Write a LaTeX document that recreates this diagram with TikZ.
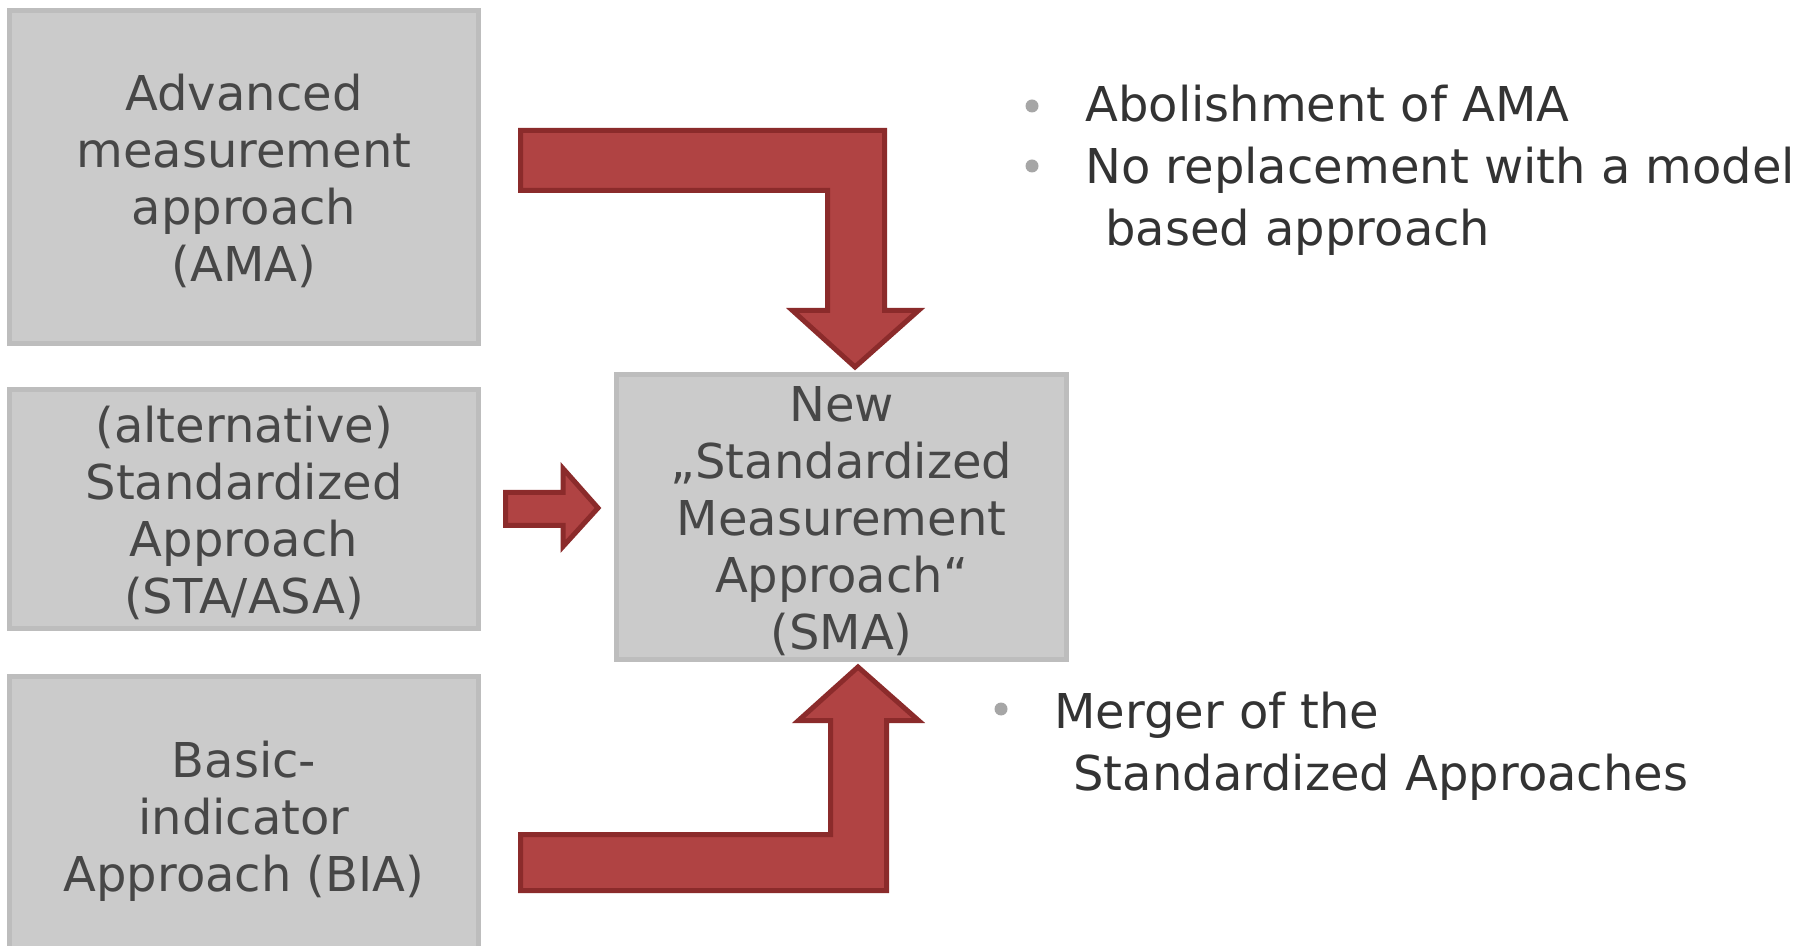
\documentclass[tikz,border=0pt]{standalone}
\usepackage{fontspec}
\setmainfont{DejaVu Sans}
\definecolor{boxfill}{HTML}{CBCBCB}
\definecolor{boxline}{HTML}{BDBDBD}
\definecolor{boxtext}{HTML}{474747}
\definecolor{arrowfill}{HTML}{B04343}
\definecolor{arrowline}{HTML}{8B2B2B}
\definecolor{bulletgray}{HTML}{A6A6A6}
\definecolor{listtext}{HTML}{333333}
\tikzset{
  approachbox/.style={draw=boxline, fill=boxfill, line width=2.5pt, inner sep=0pt},
  boxlabel/.style={text=boxtext, align=center, inner sep=0pt,
    font=\fontsize{24}{28.5}\selectfont},
  blockarrow/.style={draw=arrowline, fill=arrowfill, line width=2.5pt, line join=miter},
  listline/.style={anchor=base west, inner sep=0pt, text=listtext,
    font=\fontsize{24}{31}\selectfont},
  bulletdot/.style={circle, fill=bulletgray, minimum size=6.5pt, inner sep=0pt},
}
\begin{document}
\begin{tikzpicture}[x=0.5pt, y=-0.5pt]
  \useasboundingbox (0,0) rectangle (1806,946);
  \begin{scope}
    \clip (0,0) rectangle (1806,946);
    % approach boxes on the left
    \node[approachbox, minimum width=234.5pt, minimum height=166.5pt] (ama) at (244,177) {};
    \node[approachbox, minimum width=234.5pt, minimum height=119.5pt] (sta) at (244,509) {};
    \node[approachbox, minimum width=234.5pt, minimum height=142.5pt] (bia) at (244,819) {};
    % the new approach in the middle
    \node[approachbox, minimum width=225pt, minimum height=142.5pt] (sma) at (841.5,517) {};
  \end{scope}
  \node[boxlabel] (amatext) at ([yshift=-2pt]ama.center)
    {Advanced\\measurement\\approach\\(AMA)};
  \node[boxlabel] (statext) at ([yshift=-2pt]sta.center)
    {(alternative)\\Standardized\\Approach\\(STA/ASA)};
  \node[boxlabel] (biatext) at ([yshift=-1pt]bia.center)
    {Basic-\\indicator\\Approach (BIA)};
  \node[boxlabel] (smatext) at ([yshift=-2pt]sma.center)
    {New\\„Standardized\\Measurement\\Approach“\\(SMA)};

  % block arrows into the new approach
  \draw[blockarrow] (520.5,130.5) -- (884.5,130.5) -- (884.5,310.5) -- (918.5,310.5)
    -- (855,367) -- (792.5,310.5) -- (827.5,310.5) -- (827.5,190.5) -- (520.5,190.5) -- cycle;
  \draw[blockarrow] (505.5,492.5) -- (563,492.5) -- (563,468.5) -- (598,508)
    -- (563,546.5) -- (563,525.5) -- (505.5,525.5) -- cycle;
  \draw[blockarrow] (520.5,890.5) -- (886.5,890.5) -- (886.5,720.5) -- (918.5,720.5)
    -- (858,667) -- (798.5,720.5) -- (830.5,720.5) -- (830.5,834.5) -- (520.5,834.5) -- cycle;

  % notes on the right
  \node[bulletdot] (d1) at (1032,106) {};
  \node[listline] (n1) at (1085,122) {Abolishment of AMA};
  \node[bulletdot] (d2) at (1032,166) {};
  \node[listline] (n2) at (1085,184) {No replacement with a model};
  \node[listline] (n2b) at (1105,246) {based approach};
  \node[bulletdot] (d3) at (1001,709) {};
  \node[listline] (n3) at (1054,728) {Merger of the};
  \node[listline] (n3b) at (1073,790) {Standardized Approaches};
\end{tikzpicture}
\end{document}
